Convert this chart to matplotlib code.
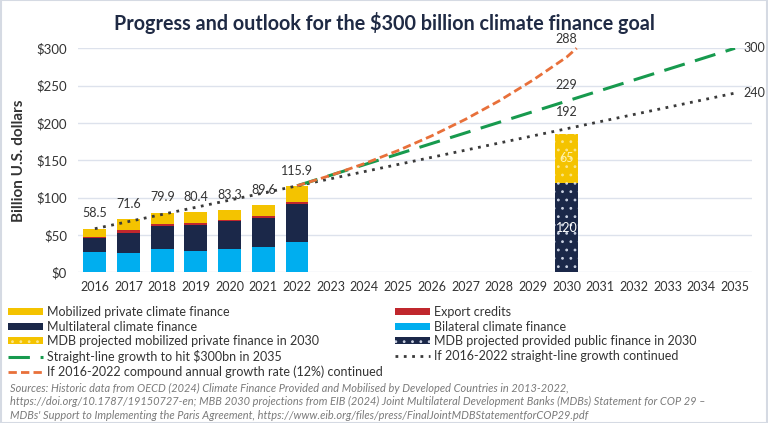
import matplotlib
matplotlib.use("Agg")
import matplotlib.pyplot as plt
from matplotlib.patches import Patch, Rectangle
from matplotlib.lines import Line2D

plt.rcParams['font.family'] = ['Lato', 'DejaVu Sans']
plt.rcParams['hatch.linewidth'] = 0.8

# historic data (billion USD)
years_hist = [2016, 2017, 2018, 2019, 2020, 2021, 2022]
bilateral = [27.7, 26.3, 31.7, 28.6, 30.8, 33.9, 40.6]
multilateral = [18.3, 26.3, 30.3, 34.3, 37.5, 38.8, 50.4]
export_credits = [1.8, 4.1, 2.7, 2.7, 1.7, 2.3, 3.1]
mobilized = [10.7, 14.9, 15.2, 14.8, 13.3, 14.6, 21.8]
totals = [58.5, 71.6, 79.9, 80.4, 83.3, 89.6, 115.9]

# MDB projection for 2030
mdb_year = 2030
mdb_public = 120
mdb_private = 65

# outlook lines
cagr_years = [2022, 2023, 2024, 2025, 2026, 2027, 2028, 2029, 2030, 2030.3]
cagr_vals = [115.9, 129.9, 145.6, 163.1, 182.8, 204.9, 229.6, 257.3, 288.0, 300.0]
target_years = [2022, 2035]
target_vals = [115.9, 300]
trend_years = [2016, 2035]
trend_vals = [58.5, 240]

all_years = list(range(2016, 2036))

c_bil = '#00AEEF'
c_multi = '#1B2849'
c_export = '#C0272D'
c_mob = '#F4C300'
c_green = '#179A4E'
c_orange = '#E8703A'
c_dot = '#3A3A3A'
c_text = '#333333'

fig = plt.figure(figsize=(7.68, 4.23), dpi=100)
ax = fig.add_axes([0.1016, 0.356, 0.8774, 0.530])

w = 0.68
b1 = [a + b for a, b in zip(bilateral, multilateral)]
b2 = [a + b for a, b in zip(b1, export_credits)]
ax.bar(years_hist, bilateral, w, color=c_bil, zorder=2)
ax.bar(years_hist, multilateral, w, bottom=bilateral, color=c_multi, zorder=2)
ax.bar(years_hist, export_credits, w, bottom=b1, color=c_export, zorder=2)
ax.bar(years_hist, mobilized, w, bottom=b2, color=c_mob, zorder=2)

ax.bar([mdb_year], [mdb_public], w, color=c_multi, hatch='..', edgecolor='#C8CFE0',
       linewidth=0, zorder=2)
ax.bar([mdb_year], [mdb_private], w, bottom=[mdb_public], color=c_mob, hatch='..',
       edgecolor='#FBE58A', linewidth=0, zorder=2)
ax.text(mdb_year, mdb_public / 2, str(mdb_public), ha='center', va='center',
        color='white', fontsize=9, zorder=4)
ax.text(mdb_year, mdb_public + mdb_private / 2, str(mdb_private), ha='center',
        va='center', color='#FFF3B0', fontsize=9, zorder=4)

for x, t in zip(years_hist, totals):
    ax.annotate(f"{t}", (x, t), xytext=(0, 11), textcoords='offset points',
                ha='center', va='center', fontsize=9, color=c_text, zorder=4)

ax.plot(trend_years, trend_vals, color=c_dot, lw=2, linestyle=(0, (1, 2)), zorder=3)
ax.plot(target_years, target_vals, color=c_green, lw=2.2, linestyle=(0, (7, 3.5)), zorder=3)
ax.plot(cagr_years, cagr_vals, color=c_orange, lw=2, linestyle=(0, (3, 1.5)), zorder=3,
        clip_on=False)

# labels on the outlook lines
ax.annotate("288", (2030, 288), xytext=(0, 13), textcoords='offset points',
            ha='center', va='center', fontsize=9, color=c_text, annotation_clip=False)
ax.annotate("229", (2030, 229), xytext=(0, 12), textcoords='offset points',
            ha='center', va='center', fontsize=9, color=c_text)
ax.annotate("192", (2030, 192), xytext=(0, 12), textcoords='offset points',
            ha='center', va='center', fontsize=9, color=c_text)
ax.annotate("300", (2035, 300), xytext=(6, 0), textcoords='offset points',
            ha='left', va='center', fontsize=9, color=c_text, annotation_clip=False)
ax.annotate("240", (2035, 240), xytext=(6, 0), textcoords='offset points',
            ha='left', va='center', fontsize=9, color=c_text, annotation_clip=False)

ax.set_xlim(2015.5, 2035.5)
ax.set_ylim(0, 300)
ax.set_xticks(all_years)
ax.set_xticklabels([str(y) for y in all_years], fontsize=9, color=c_text)
ax.set_yticks([0, 50, 100, 150, 200, 250, 300])
ax.set_yticklabels([f"${v}" for v in [0, 50, 100, 150, 200, 250, 300]],
                   fontsize=9.5, color=c_text)
ax.tick_params(length=0, pad=8)
ax.tick_params(axis='x', pad=6)
ax.grid(axis='y', color='#DDE2EC', lw=1, zorder=0)
for s in ax.spines.values():
    s.set_visible(False)
ax.set_ylabel("Billion U.S. dollars", fontsize=11, fontweight='bold', color=c_text,
              labelpad=7)

fig.text(0.5, 0.946, "Progress and outlook for the $300 billion climate finance goal",
         ha='center', va='center', fontsize=14.2, fontweight='bold', color='#1F2A44')

handles = [
    Patch(facecolor=c_mob),
    Patch(facecolor=c_multi),
    Patch(facecolor=c_mob, hatch='..', edgecolor='#FBE58A', linewidth=0),
    Line2D([], [], color=c_green, lw=2.2, linestyle=(0, (7, 3.5))),
    Line2D([], [], color=c_orange, lw=2, linestyle=(0, (3, 1.5))),
    Patch(facecolor=c_export),
    Patch(facecolor=c_bil),
    Patch(facecolor=c_multi, hatch='..', edgecolor='#C8CFE0', linewidth=0),
    Line2D([], [], color=c_dot, lw=2, linestyle=(0, (1, 2))),
]
labels = [
    "Mobilized private climate finance",
    "Multilateral climate finance",
    "MDB projected mobilized private finance in 2030",
    "Straight-line growth to hit $300bn in 2035",
    "If 2016-2022 compound annual growth rate (12%) continued",
    "Export credits",
    "Bilateral climate finance",
    "MDB projected provided public finance in 2030",
    "If 2016-2022 straight-line growth continued",
]
fig.legend(handles, labels, ncol=2, loc='upper left', bbox_to_anchor=(0.011, 0.276),
           frameon=False, fontsize=9, handlelength=2.8, handleheight=0.5,
           handletextpad=0.3, labelspacing=0.2, columnspacing=1.0,
           borderaxespad=0, borderpad=0, labelcolor=c_text)

sources = ("Sources: Historic data from OECD (2024) Climate Finance Provided and Mobilised by Developed Countries in 2013-2022,\n"
           "https://doi.org/10.1787/19150727-en; MBB 2030 projections from EIB (2024) Joint Multilateral Development Banks (MDBs) Statement for COP 29 \u2013\n"
           "MDBs' Support to Implementing the Paris Agreement, https://www.eib.org/files/press/FinalJointMDBStatementforCOP29.pdf")
fig.text(0.013, 0.05, sources, ha='left', va='center', fontsize=7.9, style='italic',
         color='#7A7A7A', linespacing=1.3)

fig.patches.append(Rectangle((0.001, 0.001), 0.998, 0.998, transform=fig.transFigure,
                             fill=False, edgecolor='#D5DAE3', lw=1.5))

fig.savefig("out.png", dpi=100)
